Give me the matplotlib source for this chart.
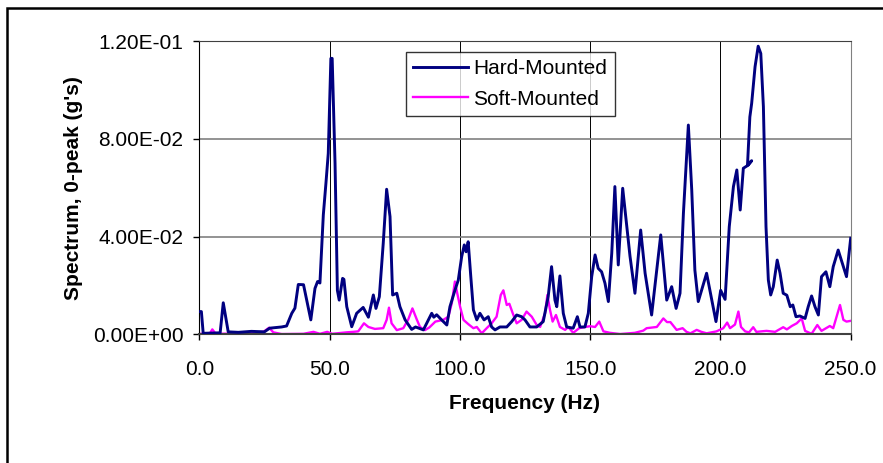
import numpy as np
import matplotlib
matplotlib.use('Agg')
import matplotlib.pyplot as plt
from matplotlib.ticker import FuncFormatter, MultipleLocator
from matplotlib.patches import Rectangle

plt.rcParams['font.family'] = ['Liberation Sans', 'DejaVu Sans']

# Hard-mounted spectrum (Hz, g's 0-peak)
hard_freq = [0, 0.8, 1.5, 5, 8, 9.2, 11.1, 15, 20, 25, 27, 31.6, 33.5, 35.5, 36.7, 38, 40,
             42.8, 44.4, 45.4, 46.3, 47.6, 48.6, 49.5, 50.5, 51, 52.1, 53, 53.7, 55, 55.5,
             56.6, 58.5, 60.4, 62.9, 64.9, 66.8, 67.8, 69.1, 70.6, 71.9, 73.2, 74.2, 75.8,
             77, 79, 81.5, 83, 86, 89.2, 90, 91.1, 93, 95, 96.2, 98.1, 99.4, 100.7, 101.7,
             102.4, 103.2, 104.2, 105.2, 106.5, 107.7, 109.3, 110.9, 112.2, 113.5, 115.4,
             118, 119.9, 121.8, 123.7, 125, 126.9, 129.5, 132, 133.9, 135.2, 136.5, 137.2,
             138.4, 139.7, 141, 143.5, 145.1, 146.1, 148, 149.3, 150.6, 151.9, 153.1, 154.4,
             155.7, 157, 158.3, 159.5, 160.8, 162.5, 163.8, 165.3, 167.2, 169.4, 171.1,
             173.6, 177.1, 179.4, 181.3, 183, 184.5, 185.8, 187.7, 189, 190.2, 191.5, 194.7,
             196.7, 198.3, 200.1, 201.8, 203.4, 205, 206.3, 207.6, 208.8, 210.7, 212,
             210.4, 211.3, 212, 213.3, 214.5, 215.5, 216.5, 217.5, 218.4, 219.3, 220.3,
             221.8, 222.9, 224.1, 225.5, 226.8, 227.8, 229, 230.5, 232.5, 233.7, 235, 236.3,
             237.6, 238.8, 240.5, 242, 243.3, 245.2, 247.2, 248.4, 250]
hard_val = [0.0093, 0.0093, 0.0004, 0.0005, 0.0006, 0.0129, 0.001, 0.0008, 0.0012, 0.001,
            0.0025, 0.003, 0.0034, 0.0086, 0.0107, 0.0204, 0.0203,
            0.0059, 0.0188, 0.0216, 0.021, 0.0489, 0.0618, 0.0741, 0.113, 0.113, 0.070,
            0.018, 0.014, 0.0229, 0.0225,
            0.0113, 0.0031, 0.0086, 0.011, 0.007, 0.0161, 0.0106, 0.0154, 0.0373, 0.0594,
            0.0482, 0.0161, 0.0168,
            0.0113, 0.0059, 0.002, 0.003, 0.0018, 0.0086, 0.007, 0.008, 0.0059, 0.0038,
            0.0113, 0.018, 0.0222, 0.0318, 0.0366,
            0.0338, 0.0379, 0.0236, 0.010, 0.0059, 0.0086, 0.0059, 0.0072, 0.003, 0.0018,
            0.003,
            0.003, 0.0052, 0.0079, 0.0072, 0.0059, 0.003, 0.003, 0.0052, 0.0154, 0.0277,
            0.014, 0.0113,
            0.0239, 0.0086, 0.003, 0.0025, 0.0072, 0.003, 0.003, 0.0086, 0.0236, 0.0325,
            0.027, 0.0256,
            0.0209, 0.0134, 0.0332, 0.0605, 0.0284, 0.0598, 0.0468, 0.032, 0.0168, 0.0427,
            0.025,
            0.0079, 0.0407, 0.014, 0.0195, 0.0106, 0.0168, 0.0495, 0.0857, 0.0591, 0.0263,
            0.0134, 0.025,
            0.014, 0.0052, 0.018, 0.0143, 0.0441, 0.0605, 0.0673, 0.0509, 0.068, 0.0693,
            0.0711,
            0.0693, 0.089, 0.0946, 0.1096, 0.118, 0.115, 0.0932, 0.0441, 0.0222, 0.0161,
            0.0195,
            0.0304, 0.025, 0.0168, 0.016, 0.0113, 0.012, 0.0072, 0.0075, 0.0065, 0.0113,
            0.0157, 0.0113,
            0.0079, 0.0236, 0.0256, 0.0195, 0.0277, 0.0345, 0.0277, 0.0236, 0.0393]

# Soft-mounted spectrum
soft_freq = [0, 4, 5, 6.3, 15, 24.6, 26.8, 28.4, 31.6, 40, 43.8, 46.3, 49.1, 51, 56.6, 59.1,
             61, 63.2, 64.9, 67.4, 70.6, 71.9, 72.8, 73.8, 75.8, 78.3, 80.2, 81.8, 83.5,
             84.7, 86.6, 88.3, 90.6, 93.6, 95.6, 96.9, 98.1, 99, 100.1, 101.4, 103.2, 105.2,
             106.5, 108.4, 110.3, 112.2, 114.1, 115.7, 116.7, 118, 119, 120.3, 121.8, 123.7,
             125.6, 127.6, 129.5, 130.8, 132.7, 133.6, 134.6, 135.6, 136.9, 138.4, 140.4,
             141.6, 143.5, 145.8, 148, 150, 151.9, 153.5, 155.1, 157.6, 161.5, 167.2, 170.4,
             171.7, 175.6, 178.1, 179.5, 180.8, 183.2, 185.5, 187, 188.5, 190.9, 192.7,
             194.7, 198.5, 201.1, 202.6, 203.7, 205.6, 206.9, 207.9, 209.5, 211, 212.6,
             213.8, 217.7, 221, 224.1, 225.5, 227.4, 229.3, 231.2, 232.5, 235, 237.2, 238.8,
             242, 243.3, 245.9, 247.2, 248.4, 250]
soft_val = [0.0002, 0.0003, 0.002, 0.0002, 0.0003, 0.001, 0.0027, 0.0008, 0.0001, 0.0002,
            0.001, 0.0002, 0.001, 0.0002, 0.0008, 0.001,
            0.0012, 0.0045, 0.003, 0.0022, 0.0025, 0.0059, 0.0109, 0.0045, 0.0017, 0.0025,
            0.0061, 0.0106, 0.006,
            0.003, 0.0017, 0.0028, 0.0052, 0.0059, 0.0072, 0.0127, 0.0216, 0.0168, 0.0113,
            0.0059, 0.0042, 0.0025,
            0.003, 0.0004, 0.0025, 0.0045, 0.0072, 0.0161, 0.018, 0.012, 0.0125, 0.0086,
            0.0045, 0.0059,
            0.0093, 0.0072, 0.0038, 0.003, 0.0086, 0.0161, 0.010, 0.0052, 0.0079, 0.003,
            0.0018,
            0.003, 0.0006, 0.0025, 0.003, 0.0033, 0.003, 0.0052, 0.0012, 0.0006, 0.0001,
            0.0006, 0.0015,
            0.0025, 0.003, 0.0065, 0.005, 0.005, 0.0018, 0.0025, 0.001, 0.0004, 0.0018,
            0.001,
            0.0004, 0.0012, 0.0025, 0.0048, 0.0025, 0.004, 0.0093, 0.003, 0.0012, 0.0008,
            0.0029,
            0.001, 0.0014, 0.001, 0.0029, 0.002, 0.0034, 0.0045, 0.0065, 0.0014, 0.0002,
            0.0038, 0.0014,
            0.0034, 0.0025, 0.012, 0.0059, 0.0052, 0.0055]

fig = plt.figure(figsize=(8.83, 4.63), dpi=100)
ax = fig.add_axes([0.2257, 0.278, 0.7377, 0.6328])

ax.plot(hard_freq, hard_val, color='#000080', linewidth=2.1, label='Hard-Mounted', zorder=3)
ax.plot(soft_freq, soft_val, color='#FF00FF', linewidth=1.7, label='Soft-Mounted', zorder=2)

ax.set_xlim(0, 250)
ax.set_ylim(0, 0.12)
ax.xaxis.set_major_locator(MultipleLocator(50))
ax.yaxis.set_major_locator(MultipleLocator(0.04))
ax.xaxis.set_major_formatter(FuncFormatter(lambda v, p: '%.1f' % v))
ax.yaxis.set_major_formatter(FuncFormatter(lambda v, p: '%.2E' % v))

ax.grid(axis='y', color='#808080', linewidth=1.2)
ax.grid(axis='x', color='black', linewidth=0.7)
ax.set_axisbelow(True)

ax.spines['top'].set_color('#404040')
ax.spines['right'].set_color('#808080')
ax.spines['bottom'].set_color('#404040')
ax.spines['bottom'].set_linewidth(1.5)
ax.spines['left'].set_color('black')

ax.tick_params(axis='both', direction='out', length=4.5, width=1, labelsize=15)
ax.tick_params(axis='x', pad=14)
ax.tick_params(axis='y', pad=7)

ax.set_xlabel('Frequency (Hz)', fontsize=15, fontweight='bold', labelpad=11)
ax.set_ylabel("Spectrum, 0-peak (g's)", fontsize=15, fontweight='bold', labelpad=7)

leg = ax.legend(loc='upper left', bbox_to_anchor=(405.7 / 883, 1 - 52 / 463),
                bbox_transform=fig.transFigure, fontsize=15, frameon=True, fancybox=False,
                edgecolor='black', borderpad=0.35, borderaxespad=0, handlelength=2.65,
                handletextpad=0.25, labelspacing=0.55)
leg.get_frame().set_linewidth(1.0)

# outer chart frame (left and top edges visible)
fig.patches.append(Rectangle((6.5 / 883, -0.2), 1.2, 1.2 - 8 / 463, transform=fig.transFigure,
                             fill=False, edgecolor='black', linewidth=1.8))

fig.savefig('out.png', dpi=100)
